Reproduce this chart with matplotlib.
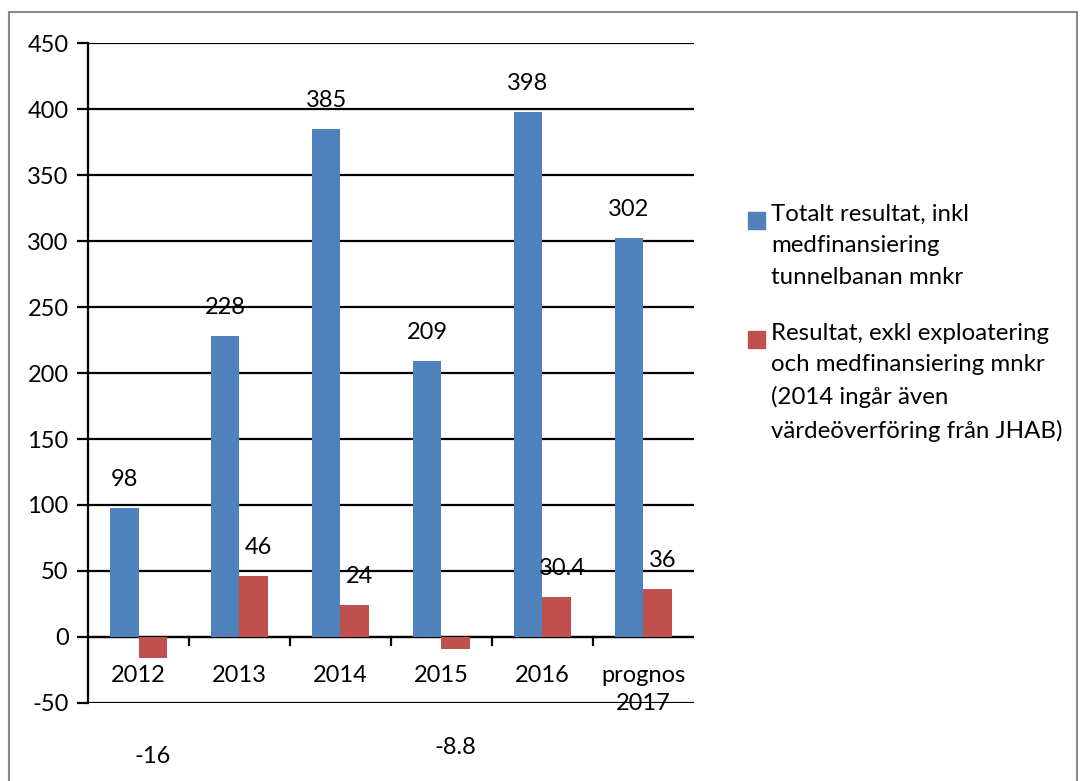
import numpy as np
import matplotlib.pyplot as plt
from matplotlib.patches import Rectangle

plt.rcParams['font.family'] = ['Lato', 'DejaVu Sans']
plt.rcParams['axes.unicode_minus'] = False

# ---- data ----
years = ["2012", "2013", "2014", "2015", "2016", "prognos\n2017"]
totalt = [98, 228, 385, 209, 398, 302]
resultat = [-16, 46, 24, -8.8, 30.4, 36]
totalt_labels = ["98", "228", "385", "209", "398", "302"]
resultat_labels = ["-16", "46", "24", "-8.8", "30.4", "36"]

serie1 = "Totalt resultat, inkl\nmedfinansiering\ntunnelbanan mnkr"
serie2 = ("Resultat, exkl exploatering\noch medfinansiering mnkr\n"
          "(2014 ingår även\nvärdeöverföring från JHAB)")

blue = "#4f81bd"
red = "#c0504d"
fs = 17

fig = plt.figure(figsize=(10.8, 7.81), dpi=100)
ax = fig.add_axes([0.0815, 0.0999, 0.561, 0.845])

x = np.arange(len(years))
w = 0.285
ax.bar(x - w / 2, totalt, width=w, color=blue, zorder=3)
ax.bar(x + w / 2, resultat, width=w, color=red, zorder=3)

# data labels
for xi, v, t in zip(x, totalt, totalt_labels):
    ax.annotate(t, (xi - w / 2, v), xytext=(0, 18), textcoords="offset pixels",
                ha="center", va="bottom", fontsize=fs, zorder=4)
for xi, v, t in zip(x, resultat, resultat_labels):
    if v >= 0:
        ax.annotate(t, (xi + w / 2 + 0.05, v), xytext=(0, 18),
                    textcoords="offset pixels",
                    ha="center", va="bottom", fontsize=fs, zorder=4)
    else:
        ax.annotate(t, (xi + w / 2, v), xytext=(0, -88), textcoords="offset pixels",
                    ha="center", va="top", fontsize=fs, zorder=4)

ax.set_ylim(-50, 450)
ax.set_yticks(np.arange(-50, 451, 50))
ax.set_xlim(-0.5, len(years) - 0.5)
ax.yaxis.grid(True, color="black", linewidth=1.6, zorder=1)
ax.set_axisbelow(True)

for s in ["top", "right", "bottom"]:
    ax.spines[s].set_visible(False)
ax.spines["left"].set_linewidth(1.6)

ax.axhline(0, color="black", linewidth=1.6, zorder=2)
ax.set_xticks([])
for xi, lab in zip(x, years):
    ax.text(xi, -21, lab, ha="center", va="top", fontsize=fs,
            linespacing=1.45, zorder=4)
for b in np.arange(0.5, len(years) - 0.5, 1):
    ax.plot([b, b], [0, -6], color="black", linewidth=1.6, zorder=2,
            clip_on=False)

ax.tick_params(axis="y", direction="out", length=8, width=1.6,
               labelsize=fs, pad=6)

# legend, drawn by hand so the square sits on the first line
leg_items = [(serie1, blue, 0.739), (serie2, red, 0.587)]
for txt, col, ytop in leg_items:
    fig.patches.append(Rectangle((0.6925, ytop - 0.0325), 0.0155, 0.0215,
                                 transform=fig.transFigure, color=col))
    fig.text(0.714, ytop, txt, ha="left", va="top", fontsize=17.3,
             linespacing=1.62)

# chart border
fig.patches.append(Rectangle((0.008, -0.1), 0.989, 1.085,
                             transform=fig.transFigure, fill=False,
                             edgecolor="#888888", linewidth=1.5))

plt.savefig("out.png", dpi=100)
